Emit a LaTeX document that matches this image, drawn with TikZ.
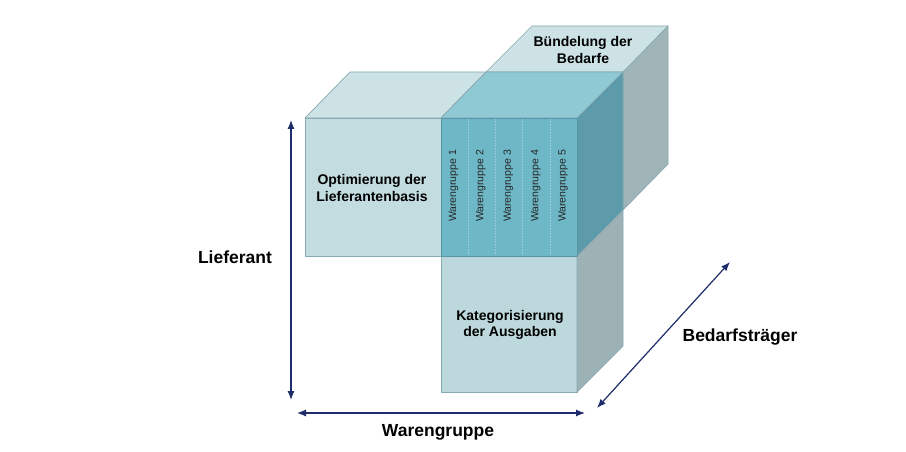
\documentclass[tikz,border=0pt]{standalone}
\usepackage{fontspec}
\setmainfont{Liberation Sans}
\usetikzlibrary{arrows.meta}
\definecolor{hfront}{HTML}{C3DCE0}
\definecolor{htop}{HTML}{CCE2E5}
\definecolor{dtop}{HTML}{CDE2E5}
\definecolor{ctop}{HTML}{8FC9D4}
\definecolor{cfront}{HTML}{6EB7C6}
\definecolor{vfront}{HTML}{BDD8DC}
\definecolor{dright}{HTML}{A0B4B7}
\definecolor{cright}{HTML}{5E9BAA}
\definecolor{vright}{HTML}{9CB2B5}
\definecolor{edgec}{HTML}{86A9B2}
\definecolor{cedge}{HTML}{5A95A6}
\definecolor{divc}{HTML}{9DCCD6}
\definecolor{axisc}{HTML}{1F2C6A}
\begin{document}
\begin{tikzpicture}[x=1pt,y=-1pt,
  face/.style={draw=edgec, line width=0.7pt, line join=round},
  lbl/.style={font=\fontsize{14}{16.5}\selectfont\bfseries, align=center, text=black},
  axlbl/.style={font=\fontsize{17.5}{20}\selectfont\bfseries, text=black},
  wg/.style={font=\fontsize{10.5}{12}\selectfont, rotate=90, text=black!85},
  axis/.style={draw=axisc, line width=1.2pt, {Latex[length=9pt,width=7pt]}-{Latex[length=9pt,width=7pt]}},
  divider/.style={draw=divc, line width=0.6pt, densely dotted}]
\useasboundingbox (0,0) rectangle (906,452);
\fill[white] (0,0) rectangle (906,452);
% faces
\filldraw[face, fill=dright] (623,72) -- (668,26) -- (668,164) -- (623,210) -- cycle;
\filldraw[face, fill=dtop] (486,72) -- (532,26) -- (668,26) -- (623,72) -- cycle;
\filldraw[face, fill=htop] (305,118) -- (350,72) -- (486,72) -- (441,118) -- cycle;
\filldraw[face, fill=ctop] (441,118) -- (486,72) -- (623,72) -- (577,118) -- cycle;
\filldraw[face, fill=hfront] (305,118) rectangle (441,256);
\filldraw[face, fill=vfront] (441,256) rectangle (577,392);
\filldraw[face, fill=vright] (577,256) -- (623,210) -- (623,346) -- (577,392) -- cycle;
\filldraw[face, fill=cright] (577,118) -- (623,72) -- (623,210) -- (577,256) -- cycle;
\filldraw[face, draw=cedge, fill=cfront] (441,118) rectangle (577,256);
% dividers
\foreach \x in {468.2,495.4,522.6,549.8}
  \draw[divider] (\x,119) -- (\x,255);
% labels
\node[lbl] (opt) at (372,188) {Optimierung der\\Lieferantenbasis};
\node[lbl] (buen) at (583,50) {Bündelung der\\Bedarfe};
\node[lbl] (kat) at (510,325) {Kategorisierung\\der Ausgaben};
\node[wg] (w1) at (453.5,186) {Warengruppe 1};
\node[wg] (w2) at (480.7,186) {Warengruppe 2};
\node[wg] (w3) at (508.3,186) {Warengruppe 3};
\node[wg] (w4) at (535.8,186) {Warengruppe 4};
\node[wg] (w5) at (563.2,186) {Warengruppe 5};
% axes
\coordinate (lt) at (291,120);
\coordinate (lb) at (291,400);
\coordinate (wl) at (297,413);
\coordinate (wr) at (585,413);
\coordinate (bl) at (597,408);
\coordinate (bu) at (730,262);
\draw[axis] (lt) -- (lb);
\draw[axis] (wl) -- (wr);
\draw[axis] (bl) -- (bu);
\node[axlbl] (lief) at (235,257) {Lieferant};
\node[axlbl] (ware) at (438,432) {Warengruppe};
\node[axlbl] (bed) at (740,337) {Bedarfsträger};
\end{tikzpicture}
\end{document}
